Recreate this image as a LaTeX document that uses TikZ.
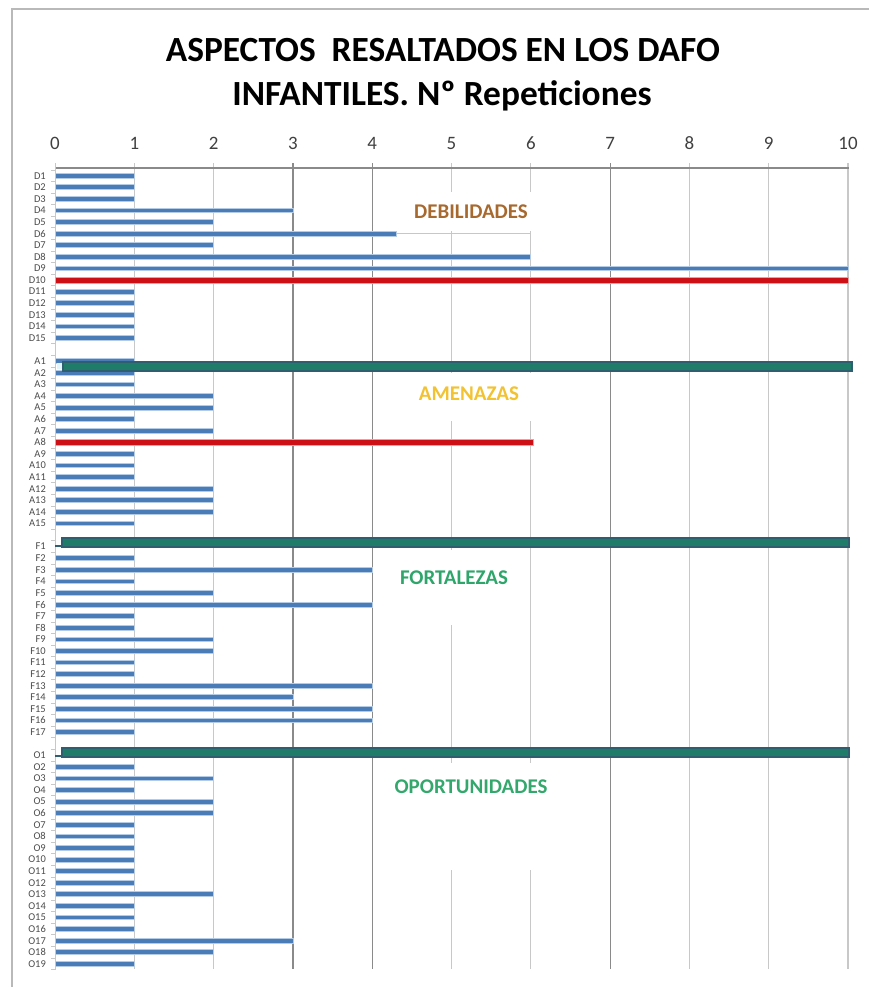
\documentclass[tikz,border=0pt]{standalone}
\usepackage{fontspec}
\setmainfont{Carlito}
\definecolor{barblue}{HTML}{4A7CB8}
\definecolor{barhalo}{HTML}{B4CBE6}
\definecolor{barred}{HTML}{CC1016}
\definecolor{redhalo}{HTML}{E8A0A0}
\definecolor{bargreen}{HTML}{1E7C68}
\definecolor{greenedge}{HTML}{2E5E70}
\definecolor{debcol}{HTML}{A8692E}
\definecolor{amecol}{HTML}{F2C230}
\definecolor{forcol}{HTML}{2EA56A}
\definecolor{opocol}{HTML}{34A86C}
\definecolor{gridlight}{HTML}{C8C8C8}
\definecolor{griddark}{HTML}{8A8A8A}
\begin{document}
\begin{tikzpicture}[x=1bp,y=-1bp,
  bar/.style={fill=barblue,draw=barhalo,line width=0.8bp},
  redbar/.style={fill=barred,draw=redhalo,line width=0.8bp},
  greenbar/.style={fill=bargreen,draw=greenedge,line width=1.2bp},
  rowlab/.style={anchor=east,font=\fontsize{10.5}{10.5}\selectfont,text=black!70,inner sep=0pt},
  axlab/.style={font=\fontsize{19}{19}\selectfont,text=black!75,inner sep=0pt},
  catlab/.style={font=\bfseries\fontsize{21}{21}\selectfont,inner sep=0pt},
  titlelab/.style={font=\bfseries\fontsize{35.5}{35.5}\selectfont,inner sep=0pt},
  gridl/.style={draw=gridlight,line width=1.2bp},
  gridd/.style={draw=griddark,line width=1.2bp}]
\useasboundingbox (0,0) rectangle (869,987);
\fill[white] (0,0) rectangle (869,987);
% frame
\draw[gray!55,line width=1.5bp] (12,990) -- (12,9) -- (872,9);
% titles
\node[titlelab] (t1) at (443,50) {ASPECTOS\ \ RESALTADOS EN LOS DAFO};
\node[titlelab] (t2) at (442,96) {INFANTILES. Nº Repeticiones};
% gridlines
\foreach \k in {1,2,5,6,8,9,10} \draw[gridl] ({55+79.3*\k},163) -- ({55+79.3*\k},969);
\foreach \k in {3,4,7} \draw[gridd] ({55+79.3*\k},163) -- ({55+79.3*\k},969);
% axes
\draw[griddark,line width=1.2bp] (55,168) -- (849,168);
\draw[gridlight,line width=0.8bp] (55,163) -- (55,970);
\foreach \i in {0,...,69} \draw[gridlight,line width=0.8bp] (51,{169.9+11.59*\i}) -- (55,{169.9+11.59*\i});
\foreach \k in {0,...,10} \node[axlab] (ax\k) at ({55+79.3*\k},143) {\k};
% white text boxes
\fill[white] (398,192) rectangle (538,231);
\fill[white] (398,373) rectangle (540,421);
\fill[white] (390,550) rectangle (516,625);
\fill[white] (385,763) rectangle (556,870);
% blue bars
\foreach \i/\v in {0/1,1/1,2/1,3/3,4/2,6/2,7/6,8/10,10/1,11/1,12/1,13/1,14/1,
  16/1,17/1,18/1,19/2,20/2,21/1,22/2,24/1,25/1,26/1,27/2,28/2,29/2,30/1,
  33/1,34/4,35/1,36/2,37/4,38/1,39/1,40/2,41/2,42/1,43/1,44/4,45/3,46/4,47/4,48/1,
  51/1,52/2,53/1,54/2,55/2,56/1,57/1,58/1,59/1,60/1,61/1,62/2,63/1,64/1,65/1,66/3,67/2,68/1}
  \path[bar] (55,{175.7+11.59*\i-2.4}) rectangle ({55+79.3*\v},{175.7+11.59*\i+2.4});
% D6 partly hidden
\draw[barhalo,line width=1.5bp] (396,233.65) -- (531,233.65);
\path[bar] (55,231.25) rectangle (396,236.05);
% red bars
\path[redbar] (55,{175.7+11.59*9-3}) rectangle (848,{175.7+11.59*9+3});
\path[redbar] (55,{175.7+11.59*23-3}) rectangle (533,{175.7+11.59*23+3});
% green overlays
\fill[white!88!cyan] (57,363) rectangle (63,369);
\path[greenbar] (63,362) rectangle (852,371);
\path[greenbar] (62,538) rectangle (849,547);
\draw[greenedge,line width=1.5bp] (55,546.2) -- (63,546.2);
\path[greenbar] (62,748) rectangle (849,757);
\draw[greenedge,line width=1.5bp] (55,756.2) -- (63,756.2);
% row labels
\foreach \n in {1,...,15} \node[rowlab] (lD\n) at (46,{175.7+11.59*(\n-1)}) {D\n};
\foreach \n in {1,...,15} \node[rowlab] (lA\n) at (46,{175.7+11.59*(\n+15)}) {A\n};
\foreach \n in {1,...,17} \node[rowlab] (lF\n) at (46,{175.7+11.59*(\n+31)}) {F\n};
\foreach \n in {1,...,19} \node[rowlab] (lO\n) at (46,{175.7+11.59*(\n+49)}) {O\n};
% category labels
\node[catlab,text=debcol] (deb) at (471,212) {DEBILIDADES};
\node[catlab,text=amecol] (ame) at (469,394) {AMENAZAS};
\node[catlab,text=forcol] (fort) at (454,578) {FORTALEZAS};
\node[catlab,text=opocol] (opo) at (471,787) {OPORTUNIDADES};
\end{tikzpicture}
\end{document}
